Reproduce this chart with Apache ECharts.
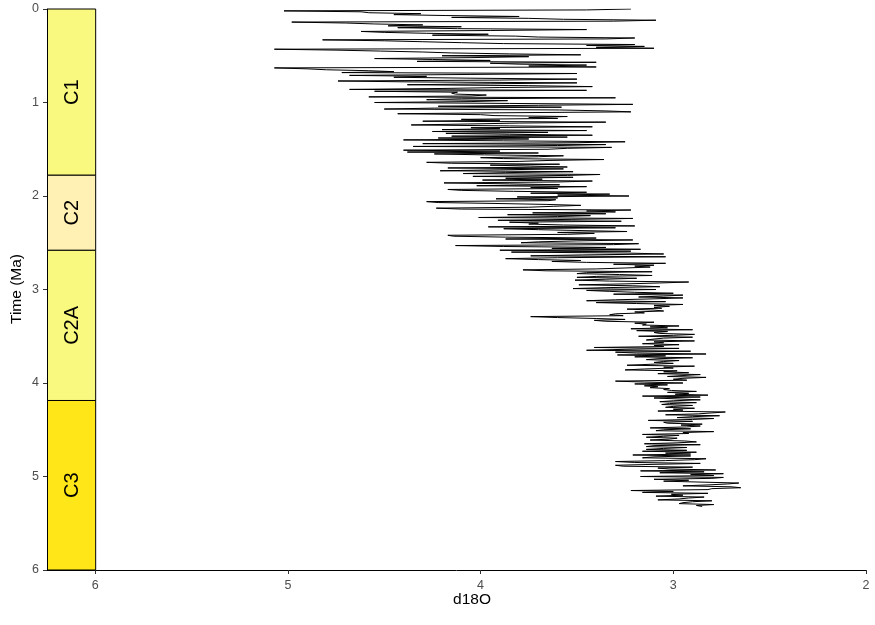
<!DOCTYPE html>
<html>
<head>
<meta charset="utf-8">
<script src="https://cdn.jsdelivr.net/npm/echarts@6/dist/echarts.min.js"></script>
<style>
  html, body { margin: 0; padding: 0; background: #fff; }
  #chart { width: 875px; height: 625px; }
</style>
</head>
<body>
<div id="chart"></div>
<script>
// ---- Data ----
// Benthic d18O (per mil), sampled every 0.01 Ma, one array per Ma
const ageStep = 0.01;
const d18O_0to1 = [
  3.22, 3.45, 5.02, 4.62, 4.58, 4.31, 4.45, 4.18, 3.80, 4.15,
  3.75, 3.57, 3.09, 3.31, 4.98, 4.70, 4.55, 4.30, 4.48, 4.10,
  4.43, 4.12, 3.45, 3.95, 4.62, 4.50, 4.28, 3.96, 4.25, 3.82,
  3.70, 3.20, 3.35, 4.82, 4.50, 4.30, 4.10, 3.88, 3.20, 3.45,
  3.15, 3.40, 3.10, 5.07, 4.75, 4.52, 4.30, 4.15, 3.85, 3.48,
  4.20, 3.75, 4.05, 4.55, 4.25, 3.95, 4.33, 3.40, 3.95, 3.80,
  3.45, 3.75, 3.40, 5.07, 4.90, 4.80, 4.58, 4.45, 4.72, 3.50,
  4.05, 4.68, 4.28, 4.45, 4.05, 3.50, 3.90, 4.74, 4.35, 3.50,
  3.95, 4.38, 3.75, 3.42, 3.90, 4.20, 4.68, 3.45, 4.55, 4.12,
  4.15, 4.13, 3.97, 4.05, 4.58, 3.30, 4.10, 4.28, 3.86, 4.05
];
const d18O_1to2 = [
  4.55, 3.85, 3.21, 3.70, 4.22, 3.58, 4.24, 4.50, 3.59, 3.35,
  3.22, 3.90, 4.43, 4.00, 3.93, 3.55, 3.75, 3.60, 4.10, 3.90,
  4.30, 3.35, 3.80, 4.07, 4.36, 3.85, 3.42, 4.05, 3.90, 4.20,
  3.45, 4.25, 3.65, 4.18, 3.85, 3.42, 4.15, 3.55, 4.22, 3.75,
  4.40, 3.88, 3.25, 3.50, 4.30, 3.35, 3.60, 4.35, 3.32, 3.55,
  3.65, 4.40, 3.90, 4.38, 3.70, 4.24, 3.98, 3.57, 3.70, 4.00,
  3.88, 3.36, 3.65, 3.80, 4.28, 4.15, 3.59, 3.95, 3.74, 3.55,
  4.17, 3.57, 3.90, 4.21, 3.52, 3.87, 4.09, 3.38, 3.55, 4.04,
  3.52, 3.87, 3.68, 3.99, 3.42, 3.60, 4.19, 3.85, 3.59, 4.02,
  3.45, 3.74, 3.60, 4.17, 4.10, 3.83, 3.45, 3.74, 3.33, 3.60
];
const d18O_2to3 = [
  3.23, 3.81, 3.60, 3.92, 3.61, 3.65, 4.28, 4.22, 3.92, 3.66,
  3.48, 3.62, 3.75, 4.23, 4.10, 3.22, 3.45, 3.30, 3.73, 3.35,
  3.86, 3.43, 3.60, 4.01, 3.21, 3.53, 3.91, 3.27, 3.85, 3.70,
  3.75, 3.57, 3.20, 3.96, 3.30, 3.88, 3.70, 3.69, 3.24, 3.60,
  3.41, 3.55, 4.17, 4.14, 3.87, 3.40, 3.87, 3.21, 3.50, 3.70,
  3.79, 3.18, 3.31, 4.13, 3.88, 3.35, 3.63, 3.17, 3.90, 3.22,
  3.84, 3.24, 3.05, 3.47, 3.74, 3.04, 3.60, 3.87, 3.70, 3.48,
  3.63, 3.45, 3.04, 3.31, 3.10, 3.20, 3.12, 3.25, 3.40, 3.78,
  3.66, 3.11, 3.45, 3.50, 3.28, 3.11, 3.40, 3.50, 3.19, 3.35,
  3.51, 3.33, 2.92, 3.07, 3.25, 3.49, 3.21, 3.07, 3.35, 3.52
];
const d18O_3to4 = [
  3.09, 3.45, 3.33, 3.20, 3.00, 3.31, 2.95, 3.05, 3.18, 2.95,
  3.10, 3.30, 3.45, 3.04, 3.40, 3.19, 2.95, 3.10, 3.02, 3.10,
  3.06, 3.24, 3.10, 3.05, 3.20, 3.15, 3.30, 3.33, 3.26, 3.74,
  3.60, 3.40, 3.25, 3.41, 3.35, 3.10, 3.20, 3.14, 3.16, 2.97,
  3.12, 3.03, 3.22, 2.90, 3.19, 3.03, 3.10, 3.07, 2.89, 3.00,
  3.18, 2.90, 3.05, 3.10, 3.14, 2.89, 3.10, 3.05, 3.16, 2.97,
  3.10, 3.05, 3.41, 2.97, 3.25, 3.45, 2.91, 3.30, 3.19, 2.83,
  3.29, 3.04, 3.20, 2.90, 3.08, 3.14, 2.97, 3.05, 3.10, 3.00,
  3.12, 3.24, 2.89, 3.05, 3.00, 3.15, 3.25, 2.98, 3.05, 2.92,
  3.08, 2.86, 2.95, 3.03, 2.83, 2.95, 3.00, 2.93, 3.30, 3.15
];
const d18O_4to5 = [
  2.95, 3.20, 3.03, 3.15, 3.08, 3.12, 3.02, 3.05, 3.01, 2.88,
  3.03, 2.92, 2.99, 2.82, 3.16, 2.86, 3.10, 3.11, 2.86, 3.00,
  3.07, 2.88, 3.02, 3.06, 2.90, 3.00, 3.04, 2.89, 3.00, 2.95,
  3.08, 2.73, 2.80, 2.87, 3.04, 2.76, 2.90, 2.98, 2.79, 2.90,
  3.13, 2.90, 3.05, 3.03, 2.85, 2.96, 2.86, 2.93, 3.12, 2.91,
  3.05, 3.09, 2.79, 2.95, 2.92, 3.16, 2.97, 3.05, 3.14, 2.98,
  3.02, 3.12, 2.94, 2.88, 2.98, 3.15, 2.86, 3.10, 3.14, 2.93,
  3.05, 3.14, 2.93, 3.16, 2.88, 3.04, 2.91, 3.21, 2.91, 3.10,
  3.16, 2.83, 2.89, 3.04, 3.30, 3.20, 2.86, 3.10, 3.30, 3.26,
  2.90, 3.08, 3.02, 2.78, 3.17, 2.84, 3.07, 2.74, 2.91, 2.79
];
const d18O_5to532 = [
  3.17, 2.74, 2.80, 3.10, 2.92, 3.05, 3.04, 2.66, 2.72, 2.82,
  2.95, 2.70, 2.65, 2.80, 2.82, 3.22, 3.00, 3.16, 2.82, 3.01,
  2.95, 3.09, 2.84, 2.92, 2.97, 3.08, 2.80, 2.90, 2.95, 2.97,
  2.79, 2.88, 2.85
];
const segments = [
  { start: 0, values: d18O_0to1 },
  { start: 1, values: d18O_1to2 },
  { start: 2, values: d18O_2to3 },
  { start: 3, values: d18O_3to4 },
  { start: 4, values: d18O_4to5 },
  { start: 5, values: d18O_5to532 }
];

// Magnetic chrons (time-scale strip)
const chronNames  = ['C1', 'C2', 'C2A', 'C3'];
const chronTop    = [0, 1.778, 2.581, 4.187];
const chronBase   = [1.778, 2.581, 4.187, 6.0];
const chronColors = ['#F9F97F', '#FFF0B3', '#F9F97F', '#FFE619'];

// Axis ticks
const xTicks = [2, 3, 4, 5, 6];
const yTicks = [0, 1, 2, 3, 4, 5, 6];

// ---- Build chart ----
const points = [];
segments.forEach(seg => {
  seg.values.forEach((v, i) => {
    points.push([v, Math.round(seg.start * 100 + i * ageStep * 100) / 100]);
  });
});

const FONT = 'Liberation Sans, Arial, sans-serif';
const chart = echarts.init(document.getElementById('chart'), null, { renderer: 'canvas' });

chart.setOption({
  animation: false,
  backgroundColor: '#ffffff',
  grid: { left: 47, right: 9, top: 9, bottom: 55, containLabel: false, outerBoundsMode: 'none' },
  graphic: [
    {
      type: 'text',
      x: 472,
      y: 600,
      style: {
        text: 'd18O',
        fill: '#000',
        fontSize: 15.5,
        fontFamily: FONT,
        align: 'center',
        verticalAlign: 'middle'
      }
    },
    {
      type: 'text',
      x: 17,
      y: 289,
      rotation: Math.PI / 2,
      style: {
        text: 'Time (Ma)',
        fill: '#000',
        fontSize: 15.5,
        fontFamily: FONT,
        align: 'center',
        verticalAlign: 'middle'
      }
    }
  ],
  xAxis: {
    type: 'value',
    inverse: true,
    min: 2,
    max: 6.25,
    axisLine: { show: true, onZero: false, lineStyle: { color: '#000', width: 1 } },
    axisTick: { show: true, length: 4, customValues: xTicks, lineStyle: { color: '#333' } },
    axisLabel: { customValues: xTicks, color: '#4D4D4D', fontSize: 12.5, fontFamily: FONT, margin: 9 },
    splitLine: { show: false }
  },
  yAxis: {
    type: 'value',
    inverse: true,
    min: 0,
    max: 6,
    interval: 1,
    axisLine: { show: true, onZero: false, lineStyle: { color: '#000', width: 1 } },
    axisTick: { show: true, length: 4, customValues: yTicks, lineStyle: { color: '#333' } },
    axisLabel: { customValues: yTicks, color: '#4D4D4D', fontSize: 12.5, fontFamily: FONT, margin: 8 },
    splitLine: { show: false }
  },
  series: [
    {
      type: 'custom',
      silent: true,
      z: 1,
      renderItem: function (params, api) {
        const idx = api.value(2);
        const p0 = api.coord([6.25, api.value(0)]);
        const p1 = api.coord([6, api.value(1)]);
        const x = Math.min(p0[0], p1[0]);
        const w = Math.abs(p1[0] - p0[0]);
        return {
          type: 'group',
          children: [
            {
              type: 'rect',
              shape: { x: x + 0.5, y: p0[1], width: w, height: p1[1] - p0[1] },
              style: { fill: chronColors[idx], stroke: '#000', lineWidth: 1 }
            },
            {
              type: 'text',
              x: x + w / 2 + 1.5,
              y: (p0[1] + p1[1]) / 2,
              rotation: Math.PI / 2,
              style: {
                text: chronNames[idx],
                fill: '#000',
                fontSize: 20,
                fontFamily: FONT,
                align: 'center',
                verticalAlign: 'middle'
              }
            }
          ]
        };
      },
      data: chronNames.map((n, i) => [chronTop[i], chronBase[i], i])
    },
    {
      type: 'line',
      data: points,
      showSymbol: false,
      symbol: 'none',
      silent: true,
      z: 3,
      lineStyle: { color: '#000', width: 1 }
    }
  ]
});
</script>
</body>
</html>
